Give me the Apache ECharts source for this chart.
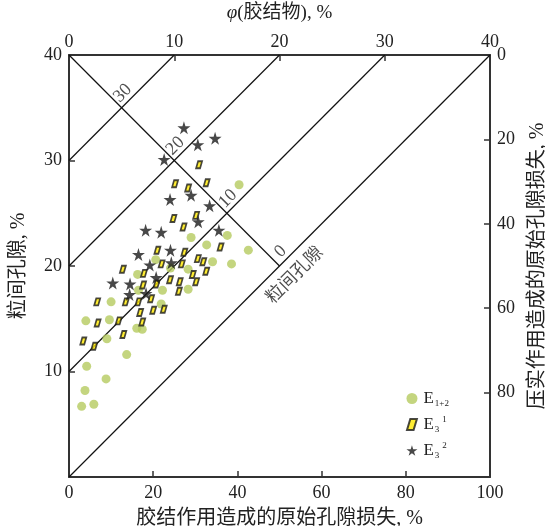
<!DOCTYPE html>
<html>
<head>
<meta charset="utf-8">
<script src="https://cdn.jsdelivr.net/npm/echarts@6/dist/echarts.min.js"></script>
<style>html,body{margin:0;padding:0;background:#fff;overflow:hidden;width:545px;height:526px}#c{width:545px;height:526px}</style>
</head>
<body>
<div id="c"></div>
<script>
// ---------- data ----------
const bottomTicks = [0, 20, 40, 60, 80, 100];
const topTicks = [0, 10, 20, 30, 40];
const leftTicks = [0, 10, 20, 30, 40];
const rightTicks = [0, 20, 40, 60, 80, 100];

// E1+2 (circles): x = cementation porosity loss %, y = intergranular porosity %
const e12X = [40.4, 37.6, 42.6, 38.6, 32.7, 29.0, 34.1, 20.6, 24.1, 28.3, 16.3, 22.2, 28.3, 16.5, 10.0, 21.9, 4.0, 9.6, 16.1, 17.4, 9.0, 13.7, 4.2, 8.8, 3.8, 5.9, 3.0];
const e12Y = [27.7, 22.9, 21.5, 20.2, 22.0, 22.7, 20.4, 20.6, 19.8, 19.7, 19.2, 17.7, 17.8, 17.7, 16.6, 16.4, 14.8, 14.9, 14.1, 14.0, 13.1, 11.6, 10.5, 9.3, 8.2, 6.9, 6.7];

// E3^1 (parallelograms)
const e31X = [30.9, 25.2, 28.3, 32.7, 24.8, 30.2, 27.2, 36.0, 21.0, 27.4, 12.8, 17.8, 22.0, 26.8, 30.6, 31.9, 32.6, 29.4, 24.0, 26.3, 30.2, 20.8, 17.6, 26.1, 19.5, 13.5, 16.5, 6.7, 20.0, 22.5, 16.9, 11.8, 6.8, 17.4, 12.9, 3.4, 6.0];
const e31Y = [29.6, 27.8, 27.4, 27.9, 24.5, 24.8, 23.7, 21.8, 21.5, 21.3, 19.7, 19.3, 20.2, 20.2, 20.7, 20.4, 19.5, 19.2, 18.7, 18.5, 18.5, 18.3, 18.2, 17.6, 16.9, 16.6, 16.6, 16.6, 15.8, 15.9, 15.6, 14.8, 14.6, 14.7, 13.5, 12.9, 12.4];

// E3^2 (stars)
const e32X = [27.3, 30.6, 34.7, 22.6, 29.0, 24.0, 33.4, 30.7, 35.6, 18.2, 21.9, 16.5, 24.1, 24.3, 19.2, 20.7, 10.4, 14.5, 14.4, 18.3];
const e32Y = [33.1, 31.5, 32.1, 30.1, 26.7, 26.3, 25.7, 24.2, 23.4, 23.4, 23.2, 21.1, 21.5, 20.3, 20.1, 18.9, 18.4, 18.3, 17.3, 17.4];

// guide lines (in bottom/left axis units)
const diagStartY = [0, 10, 20, 30];          // parallel lines start on left axis
const diagEnd = [[100, 40], [75, 40], [50, 40], [25, 40]];
const crossLine = [[0, 40], [50, 20]];       // perpendicular line
const crossLabels = ['0', '10', '20', '30'];
const poreLabel = '粒间孔隙';
const poreLabelPos = [53.7, 19.1];

const seriesNames = ['E1+2', 'E3^1', 'E3^2'];
const legendRich = {
  'E1+2': '{e|E}{s|1+2}',
  'E3^1': '{e|E}{s|3}{p|1}',
  'E3^2': '{e|E}{s|3}{p|2}'
};

// ---------- chart ----------
const serif = '"Liberation Serif","Noto Sans CJK SC",serif';
const txt = '#222';
const axisCol = '#333';
const zip = (a, b) => a.map((v, i) => [v, b[i]]);

const starPath = 'path://M50,0 L61,35 L98,35 L68,57 L79,91 L50,70 L21,91 L32,57 L2,35 L39,35 Z';
const paraPath = 'path://M3,0 L9,0 L6,10 L0,10 Z';

const lineSeries = diagStartY.map((y0, i) => ({
  type: 'line', silent: true, symbol: 'none', z: 1,
  data: [[0, y0], diagEnd[i]],
  lineStyle: { color: '#111', width: 1.2 }
}));
lineSeries.push({
  type: 'line', silent: true, symbol: 'none', z: 1,
  data: crossLine,
  lineStyle: { color: '#111', width: 1.2 }
});

// intersections of cross line with parallel lines
const crossPts = diagStartY.map((b, i) => {
  const x = (40 - b) / 0.8;
  return { value: [x, b + 0.4 * x], name: crossLabels[i] };
});

const commonAxis = {
  type: 'value',
  splitLine: { show: false },
  axisLine: { show: true, onZero: false, lineStyle: { color: axisCol, width: 2 } },
  axisTick: { show: true, inside: true, length: 6, lineStyle: { color: axisCol, width: 1.5 } },
  axisLabel: { color: txt, fontSize: 18, fontFamily: serif, margin: 7 },
  nameLocation: 'middle',
  nameTextStyle: { color: txt, fontSize: 20, fontFamily: serif }
};

const option = {
  animation: false,
  backgroundColor: '#fff',
  grid: { left: 69, right: 55, top: 55, bottom: 49, outerBoundsMode: 'none', containLabel: false },
  xAxis: [
    Object.assign({}, commonAxis, {
      position: 'bottom', min: bottomTicks[0], max: bottomTicks[bottomTicks.length - 1], interval: 20,
      name: '胶结作用造成的原始孔隙损失, %', nameGap: 32
    }),
    Object.assign({}, commonAxis, {
      position: 'top', min: topTicks[0], max: topTicks[topTicks.length - 1], interval: 10,
      axisLabel: Object.assign({}, commonAxis.axisLabel, { margin: 4 }),
      name: '{i|φ}(胶结物), %', nameGap: 32,
      nameTextStyle: { color: txt, fontSize: 19, fontFamily: serif,
        rich: { i: { fontStyle: 'italic', fontSize: 19, fontFamily: serif, color: txt } } }
    })
  ],
  yAxis: [
    Object.assign({}, commonAxis, {
      position: 'left', min: leftTicks[0], max: leftTicks[leftTicks.length - 1], interval: 10,
      axisLabel: Object.assign({}, commonAxis.axisLabel, { showMinLabel: false }),
      name: '粒间孔隙, %', nameGap: 40, nameRotate: 90
    }),
    Object.assign({}, commonAxis, {
      position: 'right', min: rightTicks[0], max: rightTicks[rightTicks.length - 1], interval: 20, inverse: true,
      axisLabel: Object.assign({}, commonAxis.axisLabel, { showMaxLabel: false }),
      name: '压实作用造成的原始孔隙损失, %', nameGap: 38, nameRotate: 90
    })
  ],
  legend: {
    data: seriesNames,
    orient: 'vertical',
    left: 401, top: 385,
    itemGap: 7,
    itemWidth: 11, itemHeight: 11,
    formatter: n => legendRich[n],
    textStyle: {
      color: txt, fontFamily: serif,
      rich: {
        e: { fontSize: 17, fontFamily: serif, color: txt, padding: [0, 0, 0, 1] },
        s: { fontSize: 9, fontFamily: serif, color: txt, padding: [10, 0, 0, 1] },
        p: { fontSize: 9, fontFamily: serif, color: txt, padding: [0, 0, 10, 3] }
      }
    }
  },
  series: lineSeries.concat([
    {
      type: 'scatter', silent: true, symbolSize: 0, z: 2,
      data: crossPts,
      label: { show: true, formatter: p => p.name, rotate: 45, position: 'inside', offset: [11, -9.5],
        color: txt, fontSize: 18, fontFamily: serif }
    },
    {
      type: 'scatter', silent: true, symbolSize: 0, z: 2,
      data: [{ value: poreLabelPos, name: poreLabel }],
      label: { show: true, formatter: p => p.name, rotate: 45, position: 'inside',
        color: txt, fontSize: 18, fontFamily: serif }
    },
    {
      name: seriesNames[0], type: 'scatter', symbol: 'circle', symbolSize: 9, z: 3,
      data: zip(e12X, e12Y),
      itemStyle: { color: '#b5cb5f' }
    },
    {
      name: seriesNames[1], type: 'scatter', symbol: paraPath, symbolSize: [6, 7], z: 4,
      data: zip(e31X, e31Y),
      itemStyle: { color: '#ffe800', borderColor: '#1a1a1a', borderWidth: 1.8 }
    },
    {
      name: seriesNames[2], type: 'scatter', symbol: starPath, symbolSize: 13, z: 5,
      data: zip(e32X, e32Y),
      itemStyle: { color: '#1a1a1a' }
    }
  ])
};

const chart = echarts.init(document.getElementById('c'), null, { renderer: 'canvas' });
chart.setOption(option);
</script>
</body>
</html>
